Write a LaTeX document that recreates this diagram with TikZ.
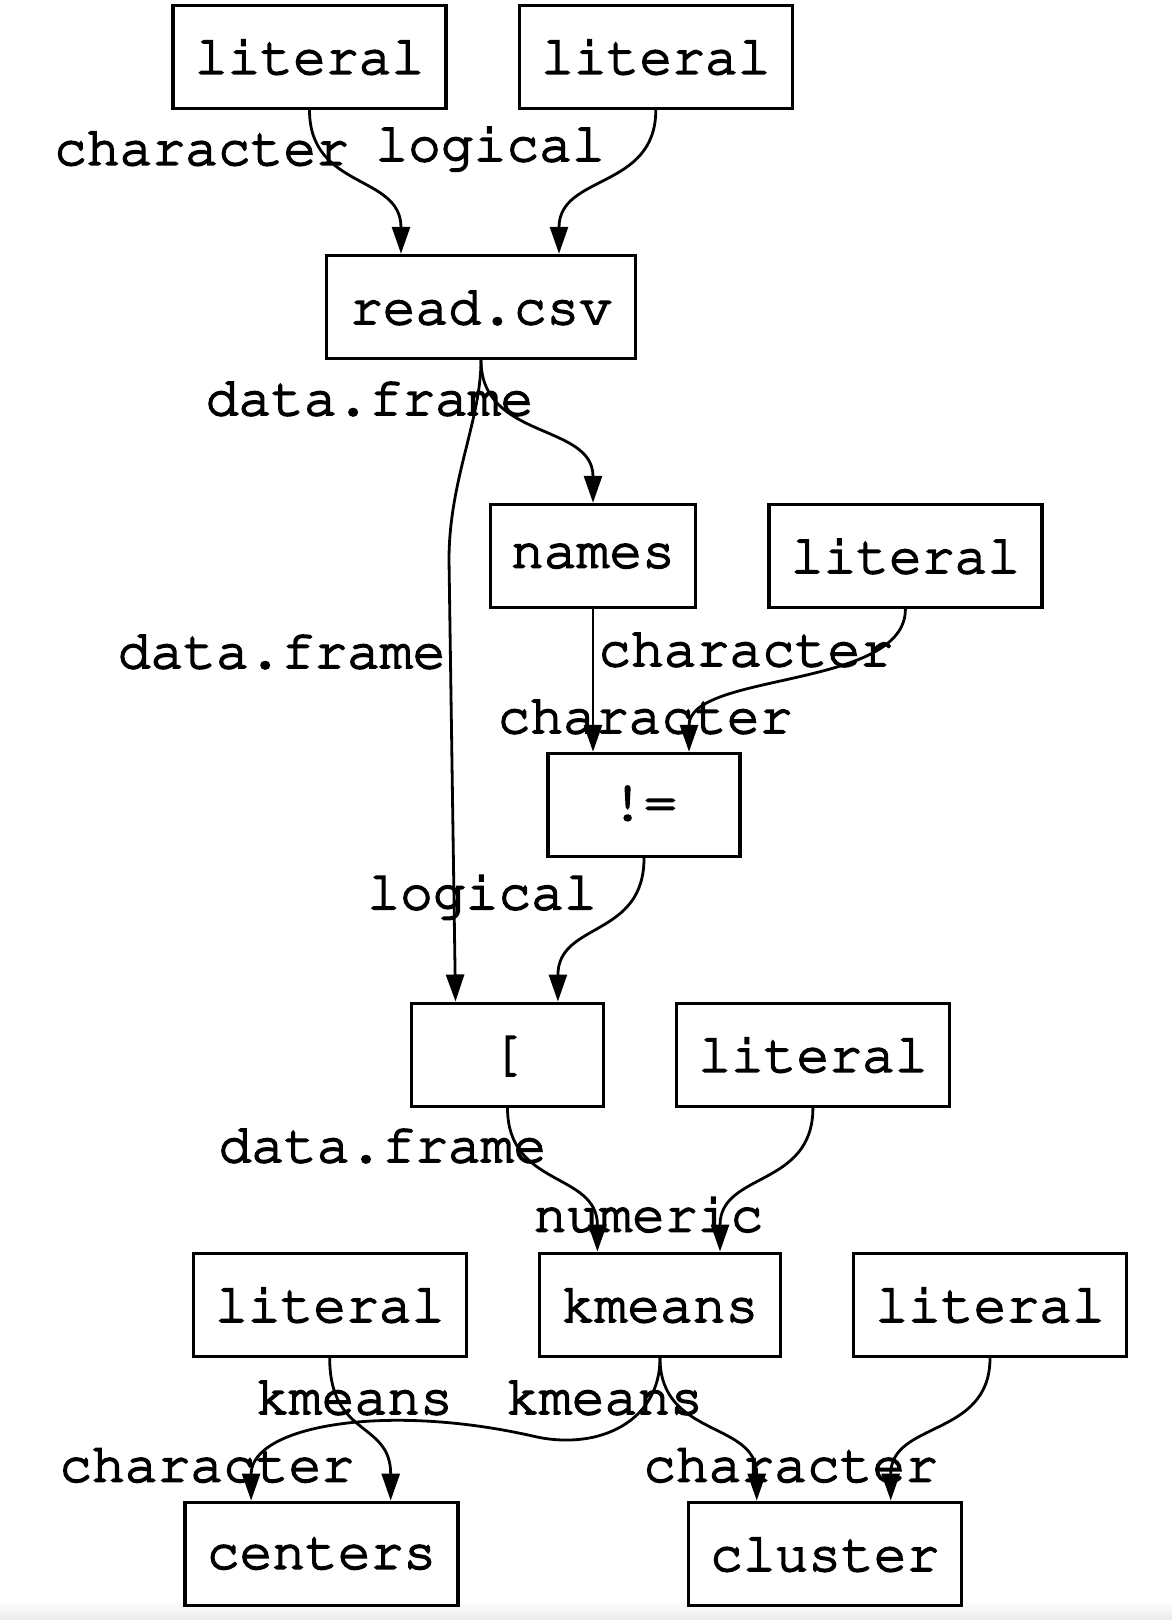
\documentclass[tikz,border=0pt]{standalone}
\usepackage[T1]{fontenc}
\usepackage{tikz}
\usetikzlibrary{arrows.meta,positioning}
% Courier, a little heavier than the regular cut
\newcommand{\codefont}{\fontfamily{pcr}\fontseries{m}\fontsize{27.3}{30}\selectfont
  \special{pdf:literal direct 2 Tr 0.9 w}}

\begin{document}
\begin{tikzpicture}[
    x=0.5pt, y=-0.5pt,
    op/.style={draw, line width=1.7pt, minimum height=51.5pt, minimum width=136.5pt,
               inner sep=0pt, font=\codefont},
    lbl/.style={inner sep=0pt, font=\codefont},
    flow/.style={-{Triangle[length=13.5pt,width=9pt]}, line width=1.4pt}]
  \useasboundingbox (0,0) rectangle (1172,1620);
  \shade[top color=white, bottom color=black!8] (0,1600) rectangle (1172,1620);
  % operations
  \node[op] (lita) at (309.5,56.8) {literal};
  \node[op] (litb) at (655.8,56.8) {literal};
  \node[op, minimum width=154.5pt] (rcsv) at (481,307) {read.csv};
  \node[op, minimum width=102.3pt] (names) at (593,556) {names};
  \node[op] (litc) at (905.4,556) {literal};
  \node[op, minimum width=96pt] (neq) at (644,805) {!=};
  \node[op, minimum width=96pt] (brk) at (507.5,1054.7) {[};
  \node[op] (litd) at (812.9,1054.7) {literal};
  \node[op] (lite) at (329.7,1304.8) {literal};
  \node[op, minimum width=120.5pt] (km) at (660,1304.8) {kmeans};
  \node[op] (litf) at (990,1304.8) {literal};
  \node[op] (cen) at (321.5,1553.8) {centers};
  \node[op] (clu) at (824.7,1553.8) {cluster};
  % type labels
  \node[lbl] (la) at (201.5,147.8) {character};
  \node[lbl] (lb) at (490,147.8) {logical};
  \node[lbl] (lc) at (369.5,398) {data.frame};
  \node[lbl] (ld) at (281.6,651) {data.frame};
  \node[lbl] (le) at (745.7,649) {character};
  \node[lbl] (lf) at (645,716) {character};
  \node[lbl] (lg) at (482,896) {logical};
  \node[lbl] (lh) at (382.4,1145) {data.frame};
  \node[lbl] (li) at (648.5,1214.4) {numeric};
  \node[lbl] (lj) at (354.5,1397) {kmeans};
  \node[lbl] (lk) at (604.6,1397) {kmeans};
  \node[lbl] (ll) at (206.7,1464.5) {character};
  \node[lbl] (lm) at (790.6,1464.5) {character};
  % data flow
  \coordinate (dfbend) at (449,560);
  \coordinate (kmbend) at (537,1437);
  \draw[flow] (lita.south) .. controls +(0,80) and +(0,-80) .. ([xshift=-40pt]rcsv.north);
  \draw[flow] (litb.south) .. controls +(0,80) and +(0,-80) .. ([xshift=39pt]rcsv.north);
  \draw[flow] (rcsv.south) .. controls +(0,80) and +(0,-80) .. (names.north);
  \draw[flow] (rcsv.south) .. controls +(0,60) and +(0,-80) .. (dfbend) -- ([xshift=-26pt]brk.north);
  \draw[flow] (names.south) -- ([xshift=-25.5pt]neq.north);
  \draw[flow] (litc.south) .. controls +(0,80) and +(0,-80) .. ([xshift=22.5pt]neq.north);
  \draw[flow] (neq.south) .. controls +(0,80) and +(0,-80) .. ([xshift=25.2pt]brk.north);
  \draw[flow] (brk.south) .. controls +(0,80) and +(0,-80) .. ([xshift=-31.3pt]km.north);
  \draw[flow] (litd.south) .. controls +(0,80) and +(0,-80) .. ([xshift=30pt]km.north);
  \draw[flow] (lite.south) .. controls +(0,80) and +(0,-80) .. ([xshift=34.6pt]cen.north);
  \draw[flow] (km.south) .. controls +(0,63) and +(63,13) .. (kmbend)
    .. controls +(-150,-35) and +(0,-75) .. ([xshift=-35.2pt]cen.north);
  \draw[flow] (km.south) .. controls +(0,80) and +(0,-80) .. ([xshift=-34pt]clu.north);
  \draw[flow] (litf.south) .. controls +(0,80) and +(0,-80) .. ([xshift=33pt]clu.north);
\end{tikzpicture}
\end{document}
